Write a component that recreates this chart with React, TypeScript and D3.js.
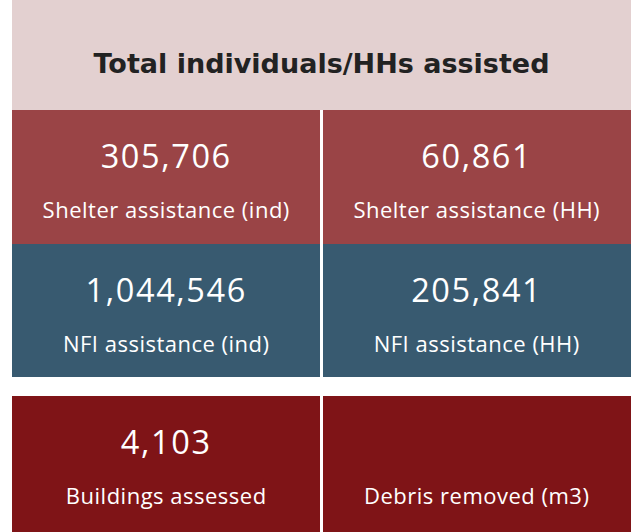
import React from "react";
import * as d3 from "d3";

// header + tiles
const title = "Total individuals/HHs assisted";
const tileValues = [305706, 60861, 1044546, 205841, 4103, null];
const tileLabels = [
    "Shelter assistance (ind)",
    "Shelter assistance (HH)",
    "NFI assistance (ind)",
    "NFI assistance (HH)",
    "Buildings assessed",
    "Debris removed (m3)",
];
const tileGroups = ["shelter", "shelter", "nfi", "nfi", "debris", "debris"];
const groupNames = ["shelter", "nfi", "debris"];

const width = 631;
const height = 532;

const fmt = d3.format(",");

export default function App() {
    const x = d3.scaleBand().domain(["0", "1"]).range([12, width]).paddingInner(0.0065);

    // rows sit flush except a white gap before the debris row
    const rowTop = d3.scaleOrdinal().domain(groupNames).range([110, 244, 396]);
    const rowBottom = d3.scaleOrdinal().domain(groupNames).range([244, 377, height]);
    const color = d3.scaleOrdinal().domain(groupNames).range(["#9a4446", "#385a70", "#7f1417"]);

    const tiles = tileValues.map((v, i) => ({
        value: v,
        label: tileLabels[i],
        group: tileGroups[i],
        col: String(i % 2),
    }));

    return (
        <svg
            width={width}
            height={height}
            style={{ position: "absolute", left: 0, top: 0, display: "block", background: "#fff" }}
        >
            <rect x={12} y={0} width={width - 12} height={110} fill="#e3d0d0" shapeRendering="crispEdges" />
            <text
                x={(12 + width) / 2}
                y={73}
                textAnchor="middle"
                fontFamily="'DejaVu Sans', Verdana, sans-serif"
                fontWeight="bold"
                fontSize={27}
                fill="#222"
            >
                {title}
            </text>
            {tiles.map((t, i) => {
                const x0 = x(t.col) as number;
                const top = rowTop(t.group) as number;
                const cx = x0 + x.bandwidth() / 2;
                return (
                    <g key={i}>
                        <rect
                            x={x0}
                            y={top}
                            width={x.bandwidth()}
                            height={(rowBottom(t.group) as number) - top}
                            fill={color(t.group) as string}
                            shapeRendering="crispEdges"
                        />
                        {t.value !== null && (
                            <text
                                x={cx}
                                y={top + 57.5}
                                textAnchor="middle"
                                fontFamily="'Open Sans', sans-serif"
                                fontSize={32.5}
                                letterSpacing={1.6}
                                fill="#fff"
                            >
                                {fmt(t.value)}
                            </text>
                        )}
                        <text
                            x={cx}
                            y={top + 108}
                            textAnchor="middle"
                            fontFamily="'Open Sans', sans-serif"
                            fontSize={22}
                            letterSpacing={0.5}
                            fill="#fff"
                        >
                            {t.label}
                        </text>
                    </g>
                );
            })}
        </svg>
    );
}
